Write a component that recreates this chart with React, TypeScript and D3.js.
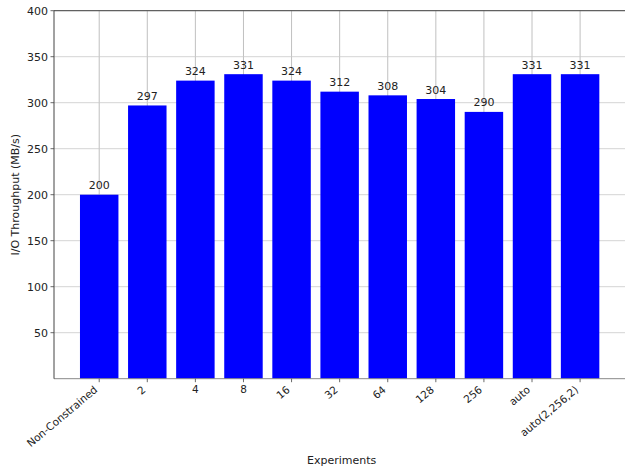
import React from "react";
import * as d3 from "d3";

const categories = ["Non-Constrained", "2", "4", "8", "16", "32", "64", "128", "256", "auto", "auto(2,256,2)"];
const values = [200, 297, 324, 331, 324, 312, 308, 304, 290, 331, 331];
const yTicks = [50, 100, 150, 200, 250, 300, 350, 400];
const uprightLabels = ["4", "8"];

const W = 625;
const H = 470;
const FONT = "DejaVu Sans, sans-serif";
const FS = 11;
const XFS = 10.5;

export default function App() {
  const x = d3.scaleLinear().domain([-0.94, 10.94]).range([54, 625.3]);
  const y = d3.scaleLinear().domain([0, 400]).range([378.7, 10.7]);
  const bw = x(0.4) - x(-0.4);
  const left = x(-0.94);
  const right = x(10.94);
  const top = y(400);
  const bottom = y(0);
  return (
    <svg width={W} height={H} style={{ position: "absolute", left: 0, top: 0 }} fontFamily={FONT}>
      <rect x={0} y={0} width={W} height={H} fill="#fff" />
      {categories.map((c, i) => (
        <line key={"vg" + i} x1={x(i)} x2={x(i)} y1={top} y2={bottom} stroke="#b0b0b0" strokeWidth={0.8} />
      ))}
      {yTicks.map((t) => (
        <line key={"hg" + t} x1={left} x2={right} y1={y(t)} y2={y(t)} stroke="#c8c8c8" strokeWidth={0.8} />
      ))}
      {values.map((v, i) => (
        <rect key={"b" + i} x={x(i) - bw / 2} y={y(v)} width={bw} height={bottom - y(v)} fill="#0000ff" />
      ))}
      {values.map((v, i) => (
        <text key={"l" + i} x={x(i)} y={y(v) - 5.5} textAnchor="middle" fontSize={FS} fill="#222">
          {v}
        </text>
      ))}
      <line x1={left} x2={right} y1={bottom} y2={bottom} stroke="#888" strokeWidth={1} />
      <line x1={left} x2={right} y1={top} y2={top} stroke="#444" strokeWidth={1} />
      <line x1={left} x2={left} y1={top} y2={bottom} stroke="#444" strokeWidth={1} />
      {yTicks.map((t) => (
        <g key={"yt" + t}>
          <line x1={left - 3.5} x2={left} y1={y(t)} y2={y(t)} stroke="#444" strokeWidth={0.8} />
          <text x={left - 6} y={y(t)} dy="0.35em" textAnchor="end" fontSize={FS} fill="#222">
            {t}
          </text>
        </g>
      ))}
      {categories.map((c, i) => (
        <g key={"xt" + i}>
          <line x1={x(i)} x2={x(i)} y1={bottom} y2={bottom + 3.5} stroke="#444" strokeWidth={0.8} />
          {uprightLabels.includes(c) ? (
            <text x={x(i)} y={bottom + 14.5} textAnchor="middle" fontSize={XFS} fill="#222">
              {c}
            </text>
          ) : (
            <text
              transform={`translate(${x(i) - 1},${bottom + 12.2}) rotate(-40)`}
              textAnchor="end"
              fontSize={XFS}
              fill="#222"
            >
              {c}
            </text>
          )}
        </g>
      ))}
      <text x={341.7} y={464} textAnchor="middle" fontSize={FS} fill="#222">
        Experiments
      </text>
      <text transform={`translate(18.5,${(top + bottom) / 2}) rotate(-90)`} textAnchor="middle" fontSize={FS} fill="#222">
        I/O Throughput (MB/s)
      </text>
    </svg>
  );
}
